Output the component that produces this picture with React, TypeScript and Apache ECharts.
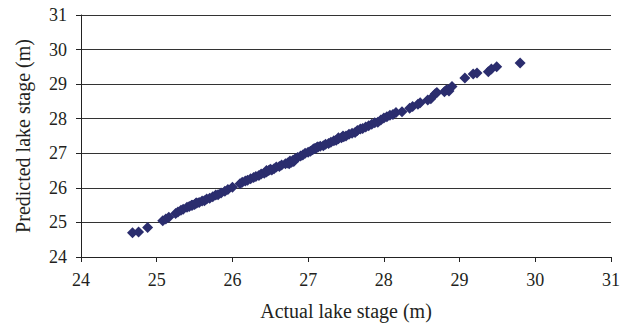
import React, { useEffect, useRef } from "react";
import * as echarts from "echarts";

const actual: number[] = [
  24.68, 24.76, 24.88, 25.08, 25.12, 25.16, 25.25, 25.28, 25.32, 25.35, 25.4, 25.43, 25.46, 25.5, 25.53, 25.56,
  25.6, 25.63, 25.66, 25.7, 25.74, 25.78, 25.81, 25.85, 25.9, 25.94, 26.0, 26.1, 26.13, 26.17, 26.2, 26.24,
  26.28, 26.31, 26.35, 26.38, 26.42, 26.45, 26.48, 26.52, 26.55, 26.58, 26.62, 26.65, 26.7, 26.73, 26.76, 26.8,
  26.83, 26.86, 26.9, 26.93, 26.96, 27.0, 27.03, 27.06, 27.1, 27.13, 27.16, 27.2, 27.23, 27.27, 27.3, 27.34,
  27.37, 27.4, 27.44, 27.47, 27.5, 27.54, 27.58, 27.62, 27.65, 27.69, 27.72, 27.76, 27.8, 27.84, 27.88, 27.92,
  27.96, 28.0, 28.04, 28.08, 28.12, 28.16, 28.24, 28.34, 28.38, 28.45, 28.48, 28.58, 28.62, 28.68, 28.7, 28.8,
  28.83, 28.86, 28.9, 29.07, 29.18, 29.23, 29.38, 29.42, 29.49, 29.8,
  26.75, 26.78, 26.81, 27.08, 27.12, 25.47, 25.52, 26.45, 26.5, 27.4, 27.46,
];

const predicted: number[] = [
  24.7, 24.72, 24.85, 25.05, 25.1, 25.15, 25.26, 25.3, 25.35, 25.38, 25.44, 25.46, 25.5, 25.52, 25.56, 25.58,
  25.62, 25.63, 25.68, 25.7, 25.74, 25.79, 25.8, 25.85, 25.9, 25.95, 26.02, 26.12, 26.16, 26.2, 26.22, 26.26,
  26.3, 26.33, 26.36, 26.4, 26.42, 26.46, 26.5, 26.52, 26.55, 26.6, 26.62, 26.66, 26.7, 26.72, 26.78, 26.8,
  26.84, 26.88, 26.92, 26.95, 27.0, 27.03, 27.06, 27.1, 27.14, 27.18, 27.2, 27.22, 27.26, 27.28, 27.32, 27.36,
  27.38, 27.42, 27.45, 27.48, 27.5, 27.55, 27.58, 27.6, 27.66, 27.7, 27.72, 27.76, 27.8, 27.84, 27.88, 27.9,
  27.96, 28.02, 28.06, 28.1, 28.12, 28.18, 28.2, 28.3, 28.35, 28.42, 28.46, 28.54, 28.58, 28.72, 28.76, 28.78,
  28.84, 28.8, 28.93, 29.18, 29.29, 29.32, 29.36, 29.44, 29.5, 29.61,
  26.7, 26.74, 26.76, 27.14, 27.18, 25.5, 25.56, 26.5, 26.54, 27.45, 27.5,
];

const xTicks = { min: 24, max: 31, interval: 1 };
const yTicks = { min: 24, max: 31, interval: 1 };

export default function App() {
  const ref = useRef<HTMLDivElement>(null);
  useEffect(() => {
    if (!ref.current) return;
    const chart = echarts.init(ref.current, undefined, { renderer: "svg" });
    const font = "'Liberation Serif', 'DejaVu Serif', serif";
    chart.setOption({
      animation: false,
      backgroundColor: "#ffffff",
      grid: { left: 81, right: 17, top: 15, bottom: 69, containLabel: false },
      xAxis: {
        type: "value",
        min: xTicks.min,
        max: xTicks.max,
        interval: xTicks.interval,
        name: "Actual lake stage (m)",
        nameLocation: "middle",
        nameGap: 44,
        nameTextStyle: { fontFamily: font, fontSize: 20, color: "#231f20" },
        axisLine: { show: true, lineStyle: { color: "#222", width: 1 } },
        axisTick: { show: true, length: 5, lineStyle: { color: "#222" } },
        axisLabel: { fontFamily: font, fontSize: 18, color: "#231f20", margin: 14 },
        splitLine: { show: false },
      },
      yAxis: {
        type: "value",
        min: yTicks.min,
        max: yTicks.max,
        interval: yTicks.interval,
        name: "Predicted lake stage (m)",
        nameLocation: "middle",
        nameGap: 48,
        nameTextStyle: { fontFamily: font, fontSize: 20, color: "#231f20" },
        axisLine: { show: true, lineStyle: { color: "#222", width: 1 } },
        axisTick: { show: true, length: 5, lineStyle: { color: "#222" } },
        axisLabel: { fontFamily: font, fontSize: 18, color: "#231f20", margin: 14 },
        splitLine: { show: true, lineStyle: { color: "#333", width: 1 } },
      },
      series: [
        {
          type: "scatter",
          symbol: "diamond",
          symbolSize: 11,
          itemStyle: { color: "#2b2d6e", opacity: 1 },
          data: actual.map((a, i) => [a, predicted[i]]),
        },
      ],
    });
    return () => chart.dispose();
  }, []);
  return (
    <div
      ref={ref}
      style={{ position: "fixed", left: 0, top: 0, width: 628, height: 326 }}
    />
  );
}
